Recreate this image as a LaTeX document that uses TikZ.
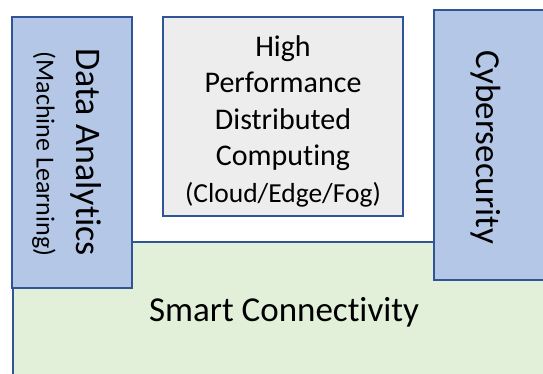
\documentclass[tikz,border=0pt]{standalone}
\usepackage{fontspec}
\setmainfont{Carlito}[RawFeature={-liga;-clig;-calt;-dlig}]
\definecolor{bordblue}{HTML}{2F5597}
\definecolor{fillblue}{HTML}{B4C7E7}
\definecolor{fillgray}{HTML}{EDEDED}
\definecolor{fillgreen}{HTML}{E2F0D9}
\begin{document}
\begin{tikzpicture}[x=1pt,y=-1pt,
  boxstyle/.style={draw=bordblue, line width=1.6pt, inner sep=0pt, outer sep=0pt, align=center, text=black},
  bluebox/.style={boxstyle, fill=fillblue},
  vtext/.style={rotate=-90, inner sep=0pt},
]
\useasboundingbox (0,0) rectangle (543,373);
\clip (0,0) rectangle (543,373);
\node[boxstyle, fill=fillgreen, minimum width=542pt, minimum height=140pt, font=\fontsize{35}{40}\selectfont] (smart) at (284,312) {Smart Connectivity};
\node[bluebox, minimum width=120pt, minimum height=271pt] (da) at (72,152.5) {};
\node[vtext, font=\fontsize{36}{40}\selectfont] (datxt) at (86,152) {Data Analytics};
\node[vtext, font=\fontsize{26}{30}\selectfont] (mltxt) at (44,154) {(Machine Learning)};
\node[bluebox, minimum width=120pt, minimum height=270pt] (cy) at (494,145) {};
\node[vtext, font=\fontsize{35}{40}\selectfont] (cytxt) at (486,147) {Cybersecurity};
\node[boxstyle, fill=fillgray, minimum width=240pt, minimum height=199pt, font=\fontsize{30}{36.5}\selectfont] (hpc) at (283,116.5) {};
\node[align=center, inner sep=0pt, font=\fontsize{30}{36.5}\selectfont] (hpctxt) at (283,121) {High\\Performance\\Distributed\\Computing\\{\fontsize{27.5}{36.5}\selectfont(Cloud/Edge/Fog)}};
\end{tikzpicture}
\end{document}
